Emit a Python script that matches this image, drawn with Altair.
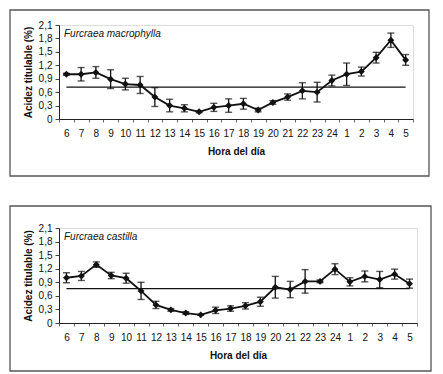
import altair as alt
import pandas as pd

hours = ['6', '7', '8', '9', '10', '11', '12', '13', '14', '15', '16', '17',
         '18', '19', '20', '21', '22', '23', '24', '1', '2', '3', '4', '5']

macro_mean = [1.00, 1.00, 1.04, 0.89, 0.78, 0.76, 0.49, 0.30, 0.24, 0.16, 0.26, 0.30,
              0.34, 0.20, 0.37, 0.49, 0.63, 0.60, 0.86, 1.00, 1.06, 1.37, 1.76, 1.32]
macro_err = [0.02, 0.15, 0.13, 0.21, 0.13, 0.19, 0.21, 0.14, 0.08, 0.02, 0.09, 0.15,
             0.12, 0.04, 0.04, 0.07, 0.18, 0.22, 0.12, 0.25, 0.10, 0.12, 0.16, 0.12]
macro_thresh = 0.71

cast_mean = [1.00, 1.04, 1.29, 1.05, 0.99, 0.71, 0.40, 0.29, 0.22, 0.18, 0.28, 0.32,
             0.38, 0.47, 0.79, 0.74, 0.92, 0.92, 1.19, 0.91, 1.03, 0.96, 1.08, 0.87]
cast_err = [0.11, 0.10, 0.06, 0.07, 0.11, 0.19, 0.08, 0.03, 0.03, 0.01, 0.07, 0.06,
            0.07, 0.10, 0.24, 0.18, 0.26, 0.03, 0.12, 0.09, 0.12, 0.18, 0.11, 0.10]
cast_thresh = 0.76

y_ticks = [0, 0.3, 0.6, 0.9, 1.2, 1.5, 1.8, 2.1]

FONT = "Liberation Sans"


def X():
    return alt.X('hora:N', sort=hours, title='Hora del día',
                 scale=alt.Scale(type='band', paddingInner=0, paddingOuter=0),
                 axis=alt.Axis(labelAngle=0, tickBand='extent', tickSize=3, tickColor='#666',
                               domainColor='#222', labelPadding=6, labelFontSize=10,
                               labelColor='#111', titleFontSize=10, titleFontWeight='bold',
                               titlePadding=8, titleColor='#111', labelFont=FONT, titleFont=FONT))


def Y(field):
    return alt.Y(field, title='Acidez titulable (%)',
                 scale=alt.Scale(domain=[0, 2.1], nice=False, zero=True),
                 axis=alt.Axis(values=y_ticks, tickSize=4, tickColor='#444', domainColor='#222',
                               labelExpr="datum.value == 0 ? '0' : replace(format(datum.value, '.1f'), '.', ',')",
                               labelFontSize=10, labelColor='#111', labelPadding=3,
                               titleFontSize=10, titleFontWeight='bold', titlePadding=5,
                               titleColor='#111', labelFont=FONT, titleFont=FONT, grid=False))


def panel(mean, err, thresh, species, w, h, box):
    df = pd.DataFrame({
        'hora': hours,
        'media': mean,
        'lo': [m - e for m, e in zip(mean, err)],
        'hi': [m + e for m, e in zip(mean, err)],
    })
    thr = pd.DataFrame({'hora': [hours[0], hours[-1]], 'v': [thresh, thresh]})
    base = alt.Chart(df)
    frame = alt.Chart(pd.DataFrame({'a': [0]})).mark_rect(
        fillOpacity=0, stroke='#555', strokeWidth=1.3
    ).encode(x=alt.value(box[0]), x2=alt.value(box[1]), y=alt.value(box[2]), y2=alt.value(box[3]))
    thr_line = alt.Chart(thr).mark_line(color='#111', strokeWidth=1.3).encode(x=X(), y=Y('v:Q'))
    rule = base.mark_rule(color='#111', strokeWidth=1.3).encode(x=X(), y=Y('lo:Q'), y2='hi:Q')
    cap_lo = base.mark_tick(orient='horizontal', size=7, thickness=1.4, color='#111').encode(x=X(), y=Y('lo:Q'))
    cap_hi = base.mark_tick(orient='horizontal', size=7, thickness=1.4, color='#111').encode(x=X(), y=Y('hi:Q'))
    line = base.mark_line(color='#111', strokeWidth=1.8).encode(x=X(), y=Y('media:Q'))
    pts = base.mark_point(shape='diamond', filled=True, color='#111', size=48, opacity=1).encode(
        x=X(), y=Y('media:Q'))
    label = alt.Chart(pd.DataFrame({'t': [species]})).mark_text(
        align='left', baseline='middle', fontStyle='italic', fontSize=10, font=FONT, color='#111'
    ).encode(x=alt.value(5), y=alt.value(9), text='t:N')
    return alt.layer(frame, thr_line, rule, cap_lo, cap_hi, line, pts, label).properties(width=w, height=h)


top = panel(macro_mean, macro_err, macro_thresh, 'Furcraea macrophylla', 354, 94, (-49, 370, -15, 151))
bottom = panel(cast_mean, cast_err, cast_thresh, 'Furcraea castilla', 358, 95, (-49, 372, -22, 143))

chart = alt.vconcat(top, bottom, spacing=26).properties(padding=0).configure_view(
    stroke='#b0c0c0', strokeWidth=1
).configure(background='white')

chart.save("out.html", embed_options={"renderer": "svg", "actions": False})
